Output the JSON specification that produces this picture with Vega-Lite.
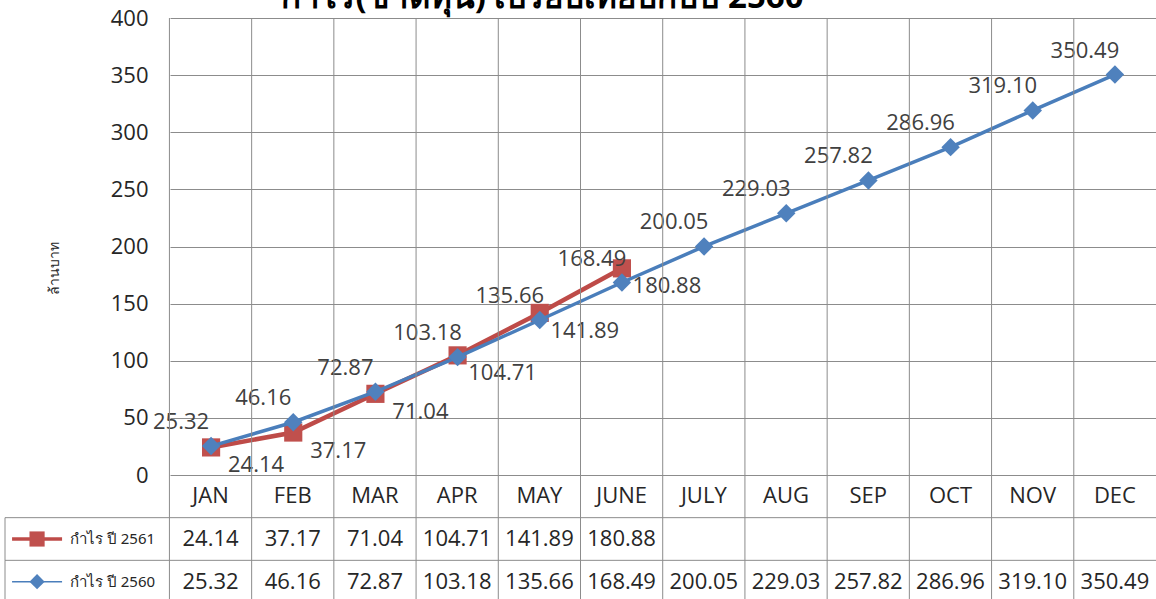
{
  "$schema": "https://vega.github.io/schema/vega-lite/v6.json",
  "width": 1151,
  "height": 581,
  "autosize": {"type": "none"},
  "padding": {"left": 5, "top": 18, "right": 0, "bottom": 0},
  "background": "white",
  "config": {"view": {"stroke": null}, "font": "Open Sans"},
  "title": {
    "text": "กำไร(ขาดทุน) เปรียบเทียบกับปี 2560",
    "fontSize": 33,
    "fontWeight": "bold",
    "font": "Noto Sans",
    "color": "#000000",
    "anchor": "middle",
    "dx": -38,
    "baseline": "alphabetic",
    "offset": -34
  },
  "datasets": {
    "vals": [
      {"month": "JAN", "row": "2561", "series": "กำไร ปี 2561", "value": 24.14},
      {"month": "FEB", "row": "2561", "series": "กำไร ปี 2561", "value": 37.17},
      {"month": "MAR", "row": "2561", "series": "กำไร ปี 2561", "value": 71.04},
      {"month": "APR", "row": "2561", "series": "กำไร ปี 2561", "value": 104.71},
      {"month": "MAY", "row": "2561", "series": "กำไร ปี 2561", "value": 141.89},
      {"month": "JUNE", "row": "2561", "series": "กำไร ปี 2561", "value": 180.88},
      {"month": "JAN", "row": "2560", "series": "กำไร ปี 2560", "value": 25.32},
      {"month": "FEB", "row": "2560", "series": "กำไร ปี 2560", "value": 46.16},
      {"month": "MAR", "row": "2560", "series": "กำไร ปี 2560", "value": 72.87},
      {"month": "APR", "row": "2560", "series": "กำไร ปี 2560", "value": 103.18},
      {"month": "MAY", "row": "2560", "series": "กำไร ปี 2560", "value": 135.66},
      {"month": "JUNE", "row": "2560", "series": "กำไร ปี 2560", "value": 168.49},
      {"month": "JULY", "row": "2560", "series": "กำไร ปี 2560", "value": 200.05},
      {"month": "AUG", "row": "2560", "series": "กำไร ปี 2560", "value": 229.03},
      {"month": "SEP", "row": "2560", "series": "กำไร ปี 2560", "value": 257.82},
      {"month": "OCT", "row": "2560", "series": "กำไร ปี 2560", "value": 286.96},
      {"month": "NOV", "row": "2560", "series": "กำไร ปี 2560", "value": 319.10},
      {"month": "DEC", "row": "2560", "series": "กำไร ปี 2560", "value": 350.49}
    ],
    "months": [
      {"month": "JAN"}, {"month": "FEB"}, {"month": "MAR"}, {"month": "APR"},
      {"month": "MAY"}, {"month": "JUNE"}, {"month": "JULY"}, {"month": "AUG"},
      {"month": "SEP"}, {"month": "OCT"}, {"month": "NOV"}, {"month": "DEC"}
    ],
    "series": [
      {"row": "2561", "series": "กำไร ปี 2561"},
      {"row": "2560", "series": "กำไร ปี 2560"}
    ]
  },
  "layer": [
    {
      "data": {"name": "vals"},
      "encoding": {
        "x": {
          "field": "month",
          "type": "ordinal",
          "scale": {
            "type": "point",
            "domain": ["JAN", "FEB", "MAR", "APR", "MAY", "JUNE", "JULY", "AUG", "SEP", "OCT", "NOV", "DEC"],
            "range": [165, 1151],
            "padding": 0.5
          },
          "axis": null
        },
        "y": {
          "field": "value",
          "type": "quantitative",
          "scale": {"domain": [0, 400], "range": [457, 0], "nice": false},
          "axis": {
            "values": [0, 50, 100, 150, 200, 250, 300, 350, 400],
            "offset": -165,
            "domain": false,
            "ticks": false,
            "grid": true,
            "gridColor": "#8C8C8C",
            "gridWidth": 1,
            "labelFont": "Open Sans",
            "labelFontSize": 22,
            "labelColor": "#262626",
            "labelPadding": 22,
            "title": "ล้านบาท",
            "titleFont": "Noto Sans",
            "titleFontSize": 14,
            "titleFontWeight": "normal",
            "titleColor": "#262626",
            "titleAngle": -90,
            "titleAlign": "center",
            "titleBaseline": "middle",
            "titleX": -116,
            "titleY": 250
          }
        }
      },
      "layer": [
        {
          "transform": [{"filter": "datum.row == '2561'"}],
          "mark": {"type": "line", "color": "#BE4B48", "strokeWidth": 4.5}
        },
        {
          "transform": [{"filter": "datum.row == '2561'"}],
          "mark": {"type": "point", "shape": "square", "filled": true, "color": "#C0504D", "size": 330, "opacity": 1}
        },
        {
          "transform": [{"filter": "datum.row == '2560'"}],
          "mark": {"type": "line", "color": "#4A7EBB", "strokeWidth": 3.5}
        },
        {
          "transform": [{"filter": "datum.row == '2560'"}],
          "mark": {"type": "point", "shape": "diamond", "filled": true, "color": "#4F81BD", "size": 340, "opacity": 1}
        },
        {
          "transform": [{"filter": "datum.row == '2560'"}],
          "mark": {"type": "text", "dx": -30, "dy": -24, "fontSize": 22, "font": "Open Sans", "color": "#404040"},
          "encoding": {"text": {"field": "value", "type": "quantitative", "format": ".2f"}}
        },
        {
          "transform": [{"filter": "datum.row == '2561'"}],
          "mark": {"type": "text", "dx": 45, "dy": 18, "fontSize": 22, "font": "Open Sans", "color": "#404040"},
          "encoding": {"text": {"field": "value", "type": "quantitative", "format": ".2f"}}
        }
      ]
    },
    {
      "layer": [
        {
          "data": {"name": "months"},
          "mark": {"type": "rule", "color": "#8C8C8C", "strokeWidth": 1},
          "encoding": {
            "x": {
              "field": "month", "type": "ordinal", "bandPosition": 0,
              "scale": {"type": "band", "domain": ["LA", "LB", "JAN", "FEB", "MAR", "APR", "MAY", "JUNE", "JULY", "AUG", "SEP", "OCT", "NOV", "DEC"], "range": [0, 1151], "paddingInner": 0, "paddingOuter": 0},
              "axis": null
            }
          }
        },
        {
          "data": {"name": "series"},
          "mark": {"type": "rule", "color": "#8C8C8C", "strokeWidth": 1},
          "encoding": {
            "y": {
              "field": "row", "type": "ordinal", "bandPosition": 0,
              "scale": {"type": "band", "domain": ["H", "2561", "2560"], "range": [457, 585], "paddingInner": 0, "paddingOuter": 0},
              "axis": null
            }
          }
        },
        {
          "data": {"name": "series"},
          "mark": {"type": "rule", "color": "#8C8C8C", "strokeWidth": 1},
          "encoding": {
            "x": {
              "datum": "LA", "type": "ordinal", "bandPosition": 0,
              "scale": {"type": "band", "domain": ["LA", "LB", "JAN", "FEB", "MAR", "APR", "MAY", "JUNE", "JULY", "AUG", "SEP", "OCT", "NOV", "DEC"], "range": [0, 1151], "paddingInner": 0, "paddingOuter": 0},
              "axis": null
            },
            "y": {
              "field": "row", "type": "ordinal", "bandPosition": 0,
              "scale": {"type": "band", "domain": ["H", "2561", "2560"], "range": [457, 585], "paddingInner": 0, "paddingOuter": 0},
              "axis": null
            },
            "y2": {"field": "row", "bandPosition": 1}
          }
        },
        {
          "data": {"name": "months"},
          "mark": {"type": "text", "fontSize": 22, "font": "Open Sans", "color": "#262626"},
          "encoding": {
            "x": {
              "field": "month", "type": "ordinal", "bandPosition": 0.5,
              "scale": {"type": "band", "domain": ["LA", "LB", "JAN", "FEB", "MAR", "APR", "MAY", "JUNE", "JULY", "AUG", "SEP", "OCT", "NOV", "DEC"], "range": [0, 1151], "paddingInner": 0, "paddingOuter": 0},
              "axis": null
            },
            "y": {
              "datum": "H", "type": "ordinal", "bandPosition": 0.5,
              "scale": {"type": "band", "domain": ["H", "2561", "2560"], "range": [457, 585], "paddingInner": 0, "paddingOuter": 0},
              "axis": null
            },
            "text": {"field": "month"}
          }
        },
        {
          "data": {"name": "vals"},
          "mark": {"type": "text", "fontSize": 22, "font": "Open Sans", "color": "#262626"},
          "encoding": {
            "x": {
              "field": "month", "type": "ordinal", "bandPosition": 0.5,
              "scale": {"type": "band", "domain": ["LA", "LB", "JAN", "FEB", "MAR", "APR", "MAY", "JUNE", "JULY", "AUG", "SEP", "OCT", "NOV", "DEC"], "range": [0, 1151], "paddingInner": 0, "paddingOuter": 0},
              "axis": null
            },
            "y": {
              "field": "row", "type": "ordinal", "bandPosition": 0.5,
              "scale": {"type": "band", "domain": ["H", "2561", "2560"], "range": [457, 585], "paddingInner": 0, "paddingOuter": 0},
              "axis": null
            },
            "text": {"field": "value", "type": "quantitative", "format": ".2f"}
          }
        },
        {
          "data": {"name": "series"},
          "transform": [{"filter": "datum.row == '2561'"}],
          "mark": {"type": "point", "shape": "stroke", "size": 2500, "strokeWidth": 3.5, "color": "#BE4B48", "opacity": 1},
          "encoding": {
            "x": {
              "datum": "LA", "type": "ordinal", "bandPosition": 0.39,
              "scale": {"type": "band", "domain": ["LA", "LB", "JAN", "FEB", "MAR", "APR", "MAY", "JUNE", "JULY", "AUG", "SEP", "OCT", "NOV", "DEC"], "range": [0, 1151], "paddingInner": 0, "paddingOuter": 0},
              "axis": null
            },
            "y": {
              "field": "row", "type": "ordinal", "bandPosition": 0.5,
              "scale": {"type": "band", "domain": ["H", "2561", "2560"], "range": [457, 585], "paddingInner": 0, "paddingOuter": 0},
              "axis": null
            }
          }
        },
        {
          "data": {"name": "series"},
          "transform": [{"filter": "datum.row == '2561'"}],
          "mark": {"type": "point", "shape": "square", "filled": true, "size": 230, "color": "#C0504D", "opacity": 1},
          "encoding": {
            "x": {
              "datum": "LA", "type": "ordinal", "bandPosition": 0.39,
              "scale": {"type": "band", "domain": ["LA", "LB", "JAN", "FEB", "MAR", "APR", "MAY", "JUNE", "JULY", "AUG", "SEP", "OCT", "NOV", "DEC"], "range": [0, 1151], "paddingInner": 0, "paddingOuter": 0},
              "axis": null
            },
            "y": {
              "field": "row", "type": "ordinal", "bandPosition": 0.5,
              "scale": {"type": "band", "domain": ["H", "2561", "2560"], "range": [457, 585], "paddingInner": 0, "paddingOuter": 0},
              "axis": null
            }
          }
        },
        {
          "data": {"name": "series"},
          "transform": [{"filter": "datum.row == '2560'"}],
          "mark": {"type": "point", "shape": "stroke", "size": 2500, "strokeWidth": 1.5, "color": "#4A7EBB", "opacity": 1},
          "encoding": {
            "x": {
              "datum": "LA", "type": "ordinal", "bandPosition": 0.39,
              "scale": {"type": "band", "domain": ["LA", "LB", "JAN", "FEB", "MAR", "APR", "MAY", "JUNE", "JULY", "AUG", "SEP", "OCT", "NOV", "DEC"], "range": [0, 1151], "paddingInner": 0, "paddingOuter": 0},
              "axis": null
            },
            "y": {
              "field": "row", "type": "ordinal", "bandPosition": 0.5,
              "scale": {"type": "band", "domain": ["H", "2561", "2560"], "range": [457, 585], "paddingInner": 0, "paddingOuter": 0},
              "axis": null
            }
          }
        },
        {
          "data": {"name": "series"},
          "transform": [{"filter": "datum.row == '2560'"}],
          "mark": {"type": "point", "shape": "diamond", "filled": true, "size": 230, "color": "#4F81BD", "opacity": 1},
          "encoding": {
            "x": {
              "datum": "LA", "type": "ordinal", "bandPosition": 0.39,
              "scale": {"type": "band", "domain": ["LA", "LB", "JAN", "FEB", "MAR", "APR", "MAY", "JUNE", "JULY", "AUG", "SEP", "OCT", "NOV", "DEC"], "range": [0, 1151], "paddingInner": 0, "paddingOuter": 0},
              "axis": null
            },
            "y": {
              "field": "row", "type": "ordinal", "bandPosition": 0.5,
              "scale": {"type": "band", "domain": ["H", "2561", "2560"], "range": [457, 585], "paddingInner": 0, "paddingOuter": 0},
              "axis": null
            }
          }
        },
        {
          "data": {"name": "series"},
          "mark": {"type": "text", "align": "left", "fontSize": 15, "font": "Noto Sans", "color": "#262626"},
          "encoding": {
            "x": {
              "datum": "LA", "type": "ordinal", "bandPosition": 0.79,
              "scale": {"type": "band", "domain": ["LA", "LB", "JAN", "FEB", "MAR", "APR", "MAY", "JUNE", "JULY", "AUG", "SEP", "OCT", "NOV", "DEC"], "range": [0, 1151], "paddingInner": 0, "paddingOuter": 0},
              "axis": null
            },
            "y": {
              "field": "row", "type": "ordinal", "bandPosition": 0.5,
              "scale": {"type": "band", "domain": ["H", "2561", "2560"], "range": [457, 585], "paddingInner": 0, "paddingOuter": 0},
              "axis": null
            },
            "text": {"field": "series"}
          }
        }
      ]
    }
  ],
  "resolve": {"scale": {"x": "independent", "y": "independent"}}
}
